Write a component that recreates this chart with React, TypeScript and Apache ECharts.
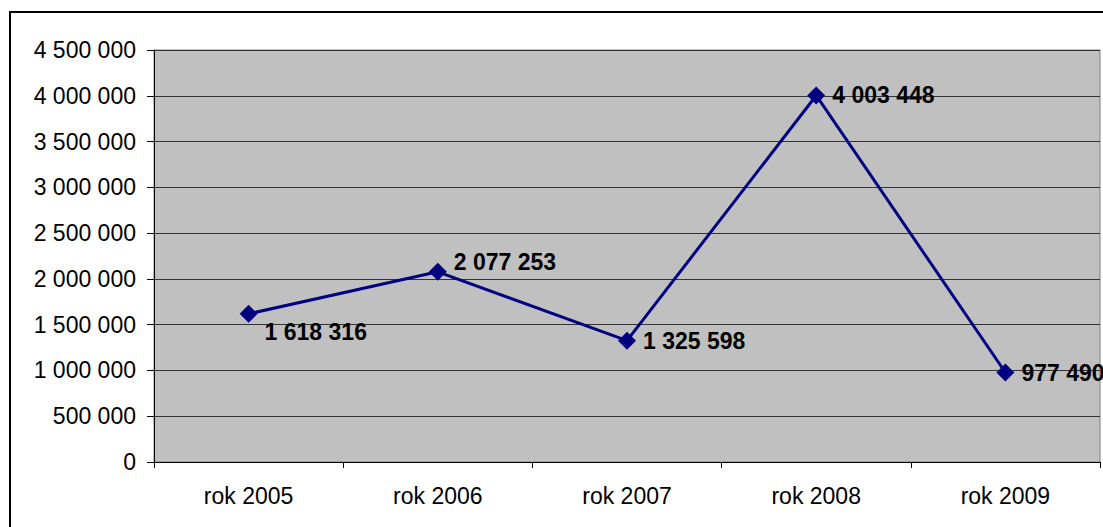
import React, { useEffect, useRef } from "react";
import * as echarts from "echarts";

const categories = ["rok 2005", "rok 2006", "rok 2007", "rok 2008", "rok 2009"];
const values = [1618316, 2077253, 1325598, 4003448, 977490];
const labelOffsets = [[0, 18], [0, -10], [0, 0], [0, 0], [0, 0]];

const fmt = (v: number) => String(Math.round(v)).replace(/\B(?=(\d{3})+(?!\d))/g, " ");

export default function App() {
  const ref = useRef<HTMLDivElement>(null);
  useEffect(() => {
    const chart = echarts.init(ref.current!, null, { renderer: "svg" });
    chart.setOption({
      animation: false,
      backgroundColor: "#ffffff",
      graphic: [
        {
          type: "rect",
          shape: { x: 10, y: 12, width: 1110, height: 540 },
          style: { fill: "none", stroke: "#000", lineWidth: 2 },
          z: 100,
        },
      ],
      grid: { left: 154, top: 50, right: 3, bottom: 65, show: true, backgroundColor: "#c0c0c0", borderColor: "#808080", borderWidth: 1 },
      xAxis: {
        type: "category",
        data: categories,
        boundaryGap: true,
        axisLine: { lineStyle: { color: "#000", width: 1 } },
        axisTick: { show: true, length: 6, lineStyle: { color: "#000" } },
        axisLabel: { color: "#000", fontSize: 23, fontFamily: "Liberation Sans, Arial", margin: 22 },
      },
      yAxis: {
        type: "value",
        min: 0,
        max: 4500000,
        interval: 500000,
        axisLine: { show: true, lineStyle: { color: "#000", width: 1 } },
        axisTick: { show: true, length: 7, lineStyle: { color: "#000" } },
        splitLine: { lineStyle: { color: "#333", width: 1 } },
        axisLabel: { color: "#000", fontSize: 23, fontFamily: "Liberation Sans, Arial", margin: 18, formatter: (v: number) => fmt(v) },
      },
      series: [
        {
          type: "line",
          data: values.map((v, i) => ({
            value: v,
            label: { offset: labelOffsets[i] },
          })),
          symbol: "diamond",
          symbolSize: 18,
          lineStyle: { color: "#000080", width: 3 },
          itemStyle: { color: "#000080" },
          label: {
            show: true,
            position: "right",
            distance: 7,
            color: "#000",
            fontWeight: "bold",
            fontSize: 23,
            fontFamily: "Liberation Sans, Arial",
            formatter: (p: any) => fmt(p.value),
          },
        },
      ],
    });
    return () => chart.dispose();
  }, []);
  return <div ref={ref} style={{ position: "fixed", left: 0, top: 0, width: 1103, height: 527 }} />;
}
